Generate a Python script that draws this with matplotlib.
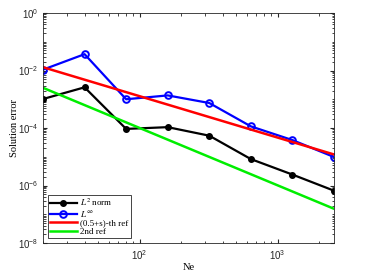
import numpy as np
import matplotlib
matplotlib.use("Agg")
import matplotlib.pyplot as plt
from matplotlib.ticker import LogLocator, NullFormatter, FixedLocator

plt.rcParams["mathtext.fontset"] = "stix"

# =========================
# Data
# =========================
ne = [20, 40, 80, 160, 320, 640, 1280, 2560]

err_l2 = [1.02e-3, 2.6e-3, 9.3e-5, 1.07e-4, 5.4e-5, 8.3e-6, 2.4e-6, 6.6e-7]
err_linf = [1.07e-2, 3.7e-2, 1.0e-3, 1.36e-3, 7.4e-4, 1.14e-4, 3.8e-5, 9.8e-6]

ref_ne = [20, 2560]
ref_half = [1.3e-2, 1.2e-5]
ref_second = [2.5e-3, 1.55e-7]

labels = [r"$L^2$ norm", r"$L^\infty$", "(0.5+s)-th ref", "2nd ref"]
y_ticks = [1e-8, 1e-6, 1e-4, 1e-2, 1e0]
x_ticks = [1e2, 1e3]

# =========================
# Plot
# =========================
fig = plt.figure(figsize=(3.65, 2.77), dpi=100)
ax = fig.add_axes([43 / 365, 34 / 277, 291 / 365, 230 / 277])

ax.loglog(ne, err_l2, "-o", color="black", lw=1.6, ms=4,
          mfc="black", mec="black", label=labels[0])
ax.loglog(ne, err_linf, "-o", color="blue", lw=1.6, ms=4.8,
          mfc="none", mec="blue", mew=1.4, label=labels[1])
ax.loglog(ref_ne, ref_half, "-", color="red", lw=1.8, label=labels[2])
ax.loglog(ref_ne, ref_second, "-", color="#00ee00", lw=1.8, label=labels[3])

ax.set_xlim(20, 2560)
ax.set_ylim(1e-8, 1e0)

ax.xaxis.set_major_locator(FixedLocator(x_ticks))
ax.xaxis.set_minor_formatter(NullFormatter())
ax.yaxis.set_major_locator(FixedLocator(y_ticks))
ax.yaxis.set_minor_locator(LogLocator(base=10.0, subs=np.arange(1, 10), numticks=50))
ax.yaxis.set_minor_formatter(NullFormatter())

ax.tick_params(which="both", direction="in", top=True, right=True,
               colors="#262626", labelsize=7)
ax.tick_params(which="major", length=3)
ax.tick_params(which="minor", length=1.8)
for lab in ax.get_xticklabels() + ax.get_yticklabels():
    lab.set_family("Liberation Sans")
for sp in ax.spines.values():
    sp.set_color("#262626")
    sp.set_linewidth(0.6)

ax.set_xlabel("Ne", family="Liberation Serif", fontsize=7.5, labelpad=1)
ax.set_ylabel("Solution error", family="Liberation Serif", fontsize=7.5, labelpad=-1)

leg = ax.legend(loc="lower left", prop={"family": "Liberation Serif", "size": 6.5},
                fancybox=False, edgecolor="#262626", framealpha=1,
                borderaxespad=0.5, handlelength=3.0, labelspacing=0.05,
                borderpad=0.25, handletextpad=0.4)
leg.get_frame().set_linewidth(0.6)

fig.savefig("out.png", dpi=100)
